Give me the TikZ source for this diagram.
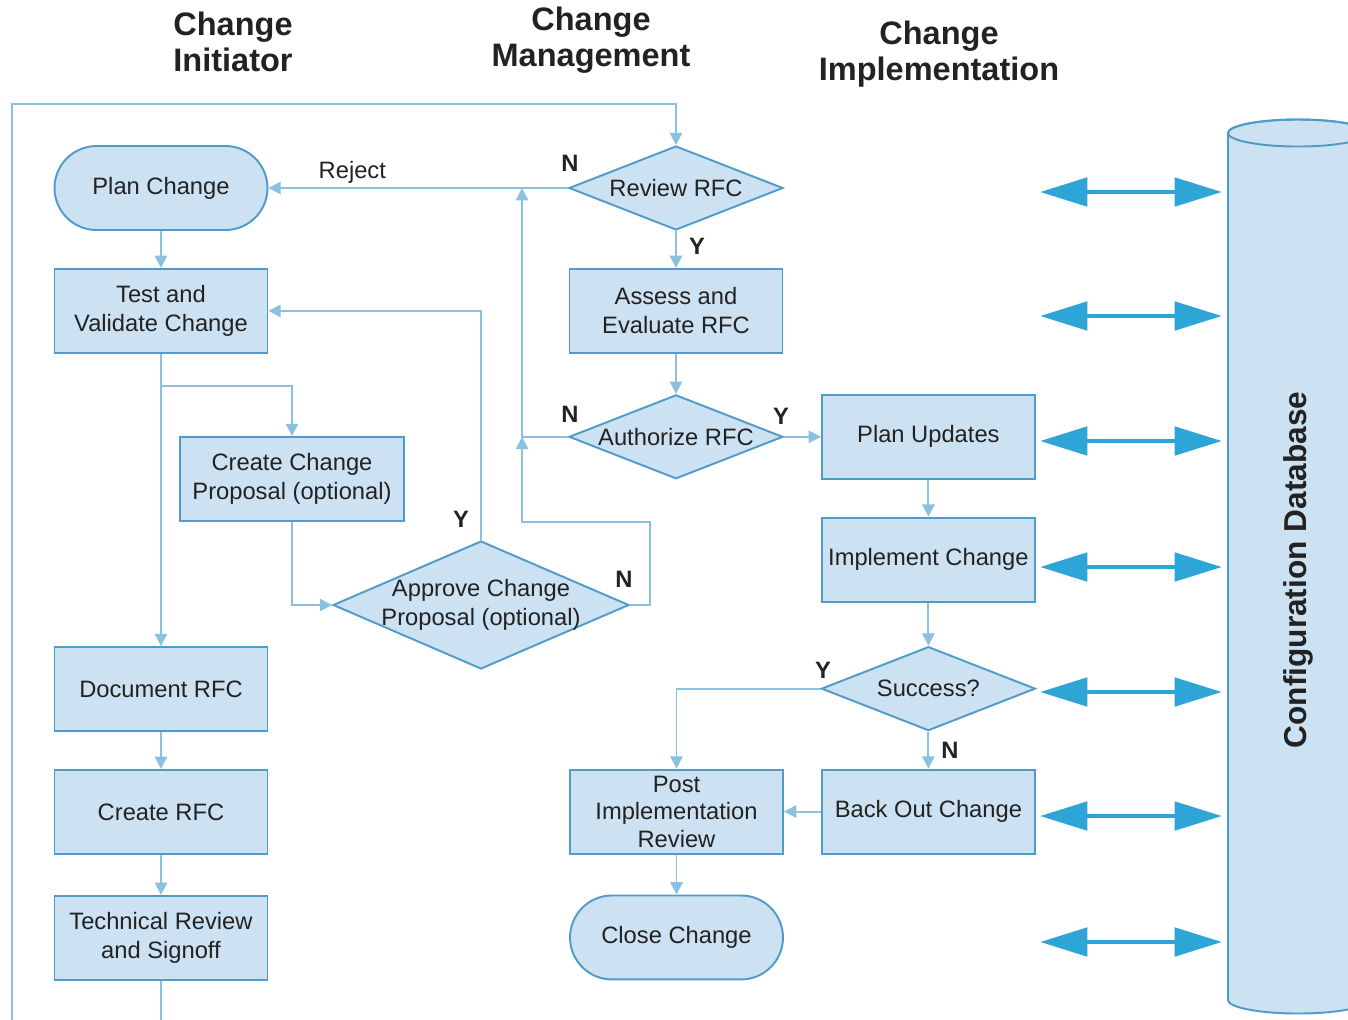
\documentclass[tikz,border=0pt]{standalone}
\usepackage{fontspec}
\setmainfont{Liberation Sans}
\usetikzlibrary{positioning,arrows.meta,shapes.geometric}

\definecolor{boxfill}{HTML}{CCE2F2}
\definecolor{boxline}{HTML}{4F9BC9}
\definecolor{flowline}{HTML}{8CC0DF}
\definecolor{dbarrowcol}{HTML}{2DA5D7}
\definecolor{textcol}{HTML}{222222}

\begin{document}
\begin{tikzpicture}[x=0.02cm,y=-0.02cm,node distance=0.74cm,font=\fontsize{13.5}{16.5}\selectfont,text=textcol,
  block/.style={draw=boxline,line width=1.1pt,fill=boxfill,rectangle,minimum width=4.26cm,minimum height=1.68cm,inner sep=0pt,align=center},
  terminal/.style={block,rounded corners=0.84cm},
  decision/.style={draw=boxline,line width=1.1pt,fill=boxfill,diamond,minimum width=4.28cm,minimum height=1.68cm,inner sep=0pt},
  arrow/.style={draw=flowline,line width=1.1pt,-{Triangle[length=7pt,width=7pt]}},
  dbarrow/.style={draw=dbarrowcol,line width=2.8pt,{Triangle[length=27pt,width=16pt]}-{Triangle[length=27pt,width=16pt]}},
  header/.style={font=\fontsize{18.5}{20.4}\selectfont\bfseries,align=center},
  yn/.style={font=\fontsize{13.5}{16}\selectfont\bfseries}]
  \useasboundingbox (0,0) rectangle (1348,1019);
  \clip (0,0) rectangle (1348,1019);

  \node[header] (hdr_init) at (233,42) {Change\\Initiator};
  \node[header] (hdr_mgmt) at (591,40) {Change\\Management};
  \node[header] (hdr_impl) at (939,54) {Change\\Implementation};

  \node[terminal] (plan) at (161,188) {Plan Change};
  \node[block,below=of plan] (test) {Test and\\Validate Change};
  \node[block,minimum width=4.48cm] (create_prop) at (292,479) {Create Change\\Proposal (optional)};
  \node[decision,minimum width=5.92cm,minimum height=2.56cm,label={[align=center]center:Approve Change\\Proposal (optional)}] (approve) at (481,605) {};
  \node[block] (document) at (161,689) {Document RFC};
  \node[block,below=of document] (create_rfc) {Create RFC};
  \node[block,below=0.8cm of create_rfc] (tech_review) {Technical Review\\and Signoff};

  \node[decision,label=center:Review RFC] (review) at (676,188) {};
  \node[block,below=of review] (assess) {Assess and\\Evaluate RFC};
  \node[decision,below=0.8cm of assess,label=center:Authorize RFC] (authorize) {};
  \node[block,right=of authorize] (plan_upd) {Plan Updates};
  \node[block,below=of plan_upd] (implement) {Implement Change};
  \node[decision,below=0.86cm of implement,label=center:Success?] (success) {};
  \node[block,below=of success] (backout) {Back Out Change};
  \node[block,left=of backout,font=\fontsize{13.5}{15.6}\selectfont] (post_review) {Post\\Implementation\\Review};
  \node[terminal,below=0.8cm of post_review] (close) {Close Change};

  \node[yn] (review_n) at (570,163) {N};
  \node[yn] (review_y) at (697,246) {Y};
  \node[yn] (authorize_n) at (570,414) {N};
  \node[yn] (authorize_y) at (781,416) {Y};
  \node[yn] (approve_y) at (461,519) {Y};
  \node[yn] (approve_n) at (624,579) {N};
  \node[yn] (success_y) at (823,670) {Y};
  \node[yn] (success_n) at (950,750) {N};

  \draw[arrow] (plan) -- (test);
  \draw[arrow] (test) -- (document);
  \draw[arrow] (test.south) ++(0,32) -| (create_prop.north);
  \draw[arrow] (create_prop.south) |- (approve.west);
  \draw[arrow] (approve.north) |- (test.east);
  \draw[arrow] (document) -- (create_rfc);
  \draw[arrow] (create_rfc) -- (tech_review);
  \draw[arrow] (tech_review.south) -- ++(0,80) -| (12,104) -| (review.north);
  \draw[arrow] (review.west) -- (plan.east) node[pos=0.72,above=-1.4pt] (reject_lbl) {Reject};
  \draw[arrow] (review) -- (assess);
  \draw[arrow] (assess) -- (authorize);
  \draw[arrow] (authorize) -- (plan_upd);
  \draw[arrow] (authorize.west) -- ++(-46,0) coordinate (n_bus) -- (n_bus |- review.west);
  \draw[arrow] (approve.east) -- ++(20,0) |- (n_bus |- create_prop.south) -- (n_bus);
  \draw[arrow] (plan_upd) -- (implement);
  \draw[arrow] (implement) -- (success);
  \draw[arrow] (success) -- (backout);
  \draw[arrow] (success.west) -| (post_review.north);
  \draw[arrow] (backout) -- (post_review);
  \draw[arrow] (post_review) -- (close);

  \filldraw[draw=boxline,line width=1.1pt,fill=boxfill] (1228,133) -- (1228,1000) arc[start angle=180,end angle=360,x radius=1.4cm,y radius=0.27cm] -- (1368,133) arc[start angle=0,end angle=180,x radius=1.4cm,y radius=0.27cm] -- cycle;
  \draw[draw=boxline,line width=1.1pt] (1298,133) ellipse [x radius=1.4cm,y radius=0.27cm];
  \node[rotate=90,font=\fontsize{18}{20}\selectfont\bfseries] (db_label) at (1298,570) {Configuration Database};

  \foreach \y in {192,316,441,567,692,816,942}
    \draw[dbarrow] (1040,\y) -- (1222,\y);
\end{tikzpicture}
\end{document}
